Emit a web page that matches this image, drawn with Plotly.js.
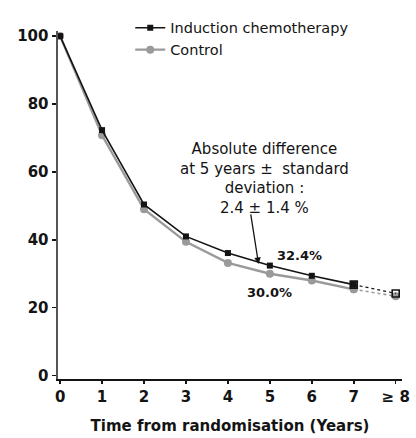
<!DOCTYPE html>
<html>
<head>
<meta charset="utf-8">
<script src="https://cdn.plot.ly/plotly-3.0.1.min.js"></script>
<style>
  html, body { margin: 0; padding: 0; background: #fff; }
  #chart { width: 416px; height: 438px; }
</style>
</head>
<body>
<div id="chart"></div>
<script>
// Survival (%) by year since randomisation
const years = [0, 1, 2, 3, 4, 5, 6, 7, 8];
const tickLabels = ['0', '1', '2', '3', '4', '5', '6', '7', '≥ 8'];
const induction = [100, 72.3, 50.4, 41.0, 36.1, 32.4, 29.4, 26.8, 24.2];
const control = [100, 70.8, 49.0, 39.4, 33.2, 30.0, 28.0, 25.4, 23.4];
const seriesNames = ['Induction chemotherapy', 'Control'];
const noteLines = ['Absolute difference', 'at 5 years ±  standard', 'deviation :', '2.4 ± 1.4 %'];

const FONT = 'DejaVu Sans, Liberation Sans, Arial, sans-serif';
const BLACK = '#141414';
const GREY = '#9a9a9a';
const last = years.length - 1;

const solidX = years.slice(0, last);
const tailX = years.slice(last - 1);

const traces = [
  {
    x: solidX, y: control.slice(0, last), name: seriesNames[1],
    mode: 'lines+markers', line: {color: GREY, width: 2.4},
    marker: {symbol: 'circle', size: 8, color: GREY}
  },
  {
    x: tailX, y: control.slice(last - 1), showlegend: false, hoverinfo: 'skip',
    mode: 'lines+markers', line: {color: GREY, width: 1.6, dash: 'dot'},
    marker: {symbol: 'circle', size: 8, color: GREY}
  },
  {
    x: solidX, y: induction.slice(0, last), name: seriesNames[0],
    mode: 'lines+markers', line: {color: BLACK, width: 1.6},
    marker: {symbol: 'square', size: 6, color: BLACK}
  },
  {
    x: tailX, y: induction.slice(last - 1), showlegend: false, hoverinfo: 'skip',
    mode: 'lines+markers', line: {color: BLACK, width: 1.2, dash: 'dot'},
    marker: {symbol: 'square-open', size: 7, color: BLACK, line: {width: 1.6}}
  }
];

const at5 = years.indexOf(5);

const layout = {
  width: 416, height: 438,
  margin: {l: 58, r: 14, t: 28, b: 59},
  paper_bgcolor: '#fff', plot_bgcolor: '#fff',
  font: {family: FONT, color: BLACK},
  showlegend: true,
  legend: {
    x: 0.21, y: 1.055, xanchor: 'left', yanchor: 'top',
    traceorder: 'reversed', bgcolor: 'rgba(0,0,0,0)',
    font: {family: FONT, size: 14.5, color: BLACK},
    itemwidth: 30, tracegroupgap: 0
  },
  xaxis: {
    range: [-0.05, 8.15],
    tickvals: years, ticktext: tickLabels,
    showgrid: false, zeroline: false,
    showline: true, linecolor: BLACK, linewidth: 2,
    ticks: 'outside', ticklen: 3, tickwidth: 1.5, tickcolor: BLACK,
    tickfont: {family: FONT, size: 15, color: BLACK, weight: 'bold'},
    title: {text: 'Time from randomisation (Years)', font: {family: FONT, size: 15, color: BLACK, weight: 'bold'}, standoff: 15},
    fixedrange: true
  },
  yaxis: {
    range: [-1, 101.5],
    tickvals: [0, 20, 40, 60, 80, 100],
    showgrid: false, zeroline: false,
    showline: true, linecolor: '#555', linewidth: 2.5,
    ticks: 'outside', ticklen: 4, tickwidth: 1.5, tickcolor: BLACK,
    tickfont: {family: FONT, size: 15, color: BLACK, weight: 'bold'},
    fixedrange: true
  },
  annotations: [
    {
      x: 4.87, y: 58, xref: 'x', yref: 'y', showarrow: false,
      text: noteLines.join('<br>'), align: 'center',
      font: {family: FONT, size: 15, color: BLACK}
    },
    {
      x: 4.73, y: 32.9, xref: 'x', yref: 'y', text: '',
      showarrow: true, arrowhead: 2, arrowsize: 1, arrowwidth: 1.3, arrowcolor: BLACK,
      ax: -8, ay: -51
    },
    {
      x: years[at5], y: induction[at5], xref: 'x', yref: 'y', showarrow: false,
      text: '<b>' + induction[at5].toFixed(1) + '%</b>', xshift: 30, yshift: 10,
      font: {family: FONT, size: 13, color: BLACK}
    },
    {
      x: years[at5], y: control[at5], xref: 'x', yref: 'y', showarrow: false,
      text: '<b>' + control[at5].toFixed(1) + '%</b>', yshift: -19,
      font: {family: FONT, size: 13, color: BLACK}
    }
  ]
};

Plotly.newPlot('chart', traces, layout, {displayModeBar: false, staticPlot: true});
</script>
</body>
</html>
